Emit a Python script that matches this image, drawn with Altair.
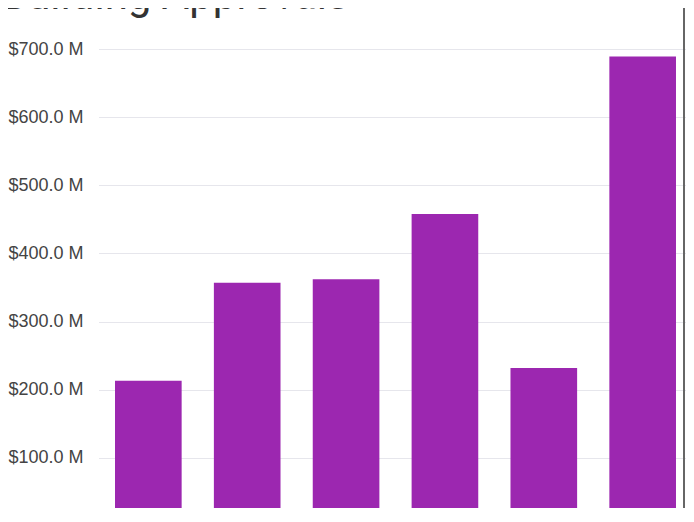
import altair as alt
import pandas as pd

title_text = ["Building Approvals"]
categories = ["2018", "2019", "2020", "2021", "2022", "2023"]
approvals_m = [213, 357, 362, 458, 232, 689]
y_ticks = [0, 100, 200, 300, 400, 500, 600, 700]

df = pd.DataFrame({"period": categories, "value": approvals_m})

bars = alt.Chart(df).mark_bar(color="#9c27b0").encode(
    x=alt.X("period:N", sort=categories, axis=None,
            scale=alt.Scale(range=[0.5, 594.5], paddingInner=0.326, paddingOuter=0.167)),
    y=alt.Y("value:Q", scale=alt.Scale(domain=[0, 700], range=[477, 0], nice=False),
            axis=alt.Axis(values=y_ticks, title=None, ticks=False, domain=False,
                          labelExpr="datum.value == 0 ? '$0.00' : '$' + format(datum.value, '.1f') + ' M'",
                          labelFont="Liberation Sans", labelFontSize=18, labelColor="#444",
                          labelPadding=15, gridColor="#e6e6ec", gridWidth=1)),
)

right_edge = alt.Chart(pd.DataFrame({"b": [0]})).mark_rule(color="#666", strokeWidth=2).encode(
    x=alt.value(586), y=alt.value(-60), y2=alt.value(490)
)

title = alt.Chart(pd.DataFrame({"t": title_text})).mark_text(
    font="Roboto", fontSize=42, color="#333", align="left", baseline="alphabetic"
).encode(text="t:N", x=alt.value(-97), y=alt.value(-40))

chart = alt.layer(bars, right_edge, title).properties(
    width=587,
    height=459,
    autosize=alt.AutoSizeParams(type="none"),
    padding={"left": 90, "top": 41, "right": 1, "bottom": 0},
    background="white",
).configure_view(stroke=None)

chart.save("out.html", embed_options={"renderer": "svg", "actions": False})
